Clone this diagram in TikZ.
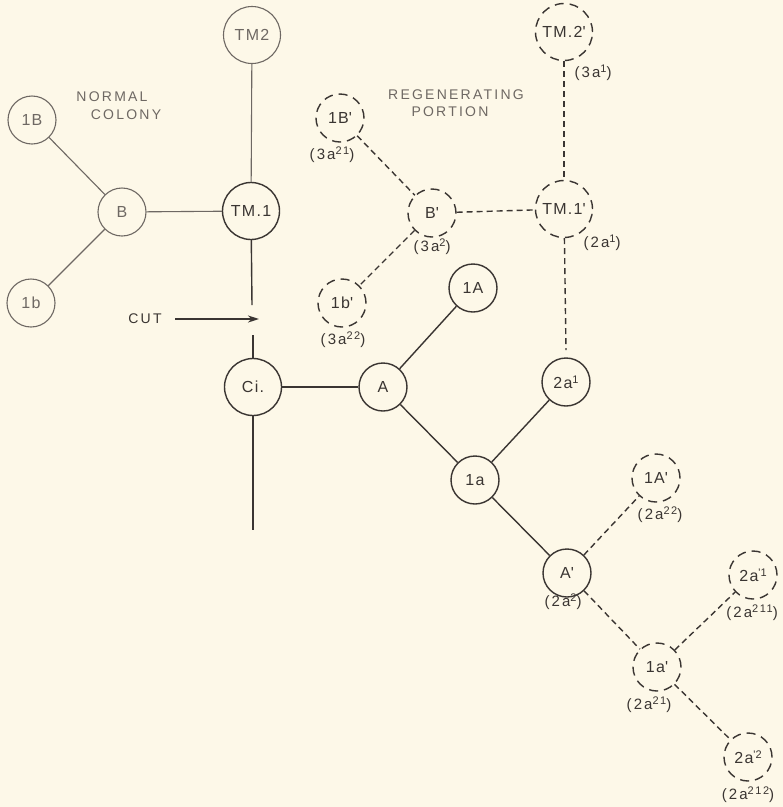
\documentclass[tikz,border=0pt]{standalone}
\usepackage{fontspec}
\setmainfont{Liberation Sans}[LetterSpace=8]
\usetikzlibrary{arrows.meta}
\definecolor{paper}{HTML}{FDF8E8}
\definecolor{ink}{HTML}{3A3532}
\definecolor{faint}{HTML}{6E6863}
% raised small figures for the generation indices
\newcommand\up[1]{\raisebox{0.6ex}{\fontsize{11}{11}\selectfont #1}}
\newcommand\pr{\textquotesingle}
\tikzset{
  cell/.style={circle, draw=ink, line width=1.4pt, inner sep=0pt,
    minimum size=48pt, text=ink, font=\fontsize{16}{16}\selectfont},
  big/.style={minimum size=57pt},
  old/.style={draw=faint, text=faint, line width=1.1pt},
  regen/.style={dash pattern=on 9pt off 6pt},
  tag/.style={text=ink, inner sep=0pt,
    font=\addfontfeature{LetterSpace=14}\fontsize{15}{15}\selectfont},
  heading/.style={text=faint, inner sep=0pt,
    font=\addfontfeature{LetterSpace=16}\fontsize{14}{14}\selectfont},
  link/.style={draw=ink, line width=1.4pt},
  oldlink/.style={draw=faint, line width=1.1pt},
  regenlink/.style={link, dash pattern=on 6pt off 4pt},
  cutarrow/.style={draw=ink, line width=2pt, -{Stealth[length=11pt,width=7pt]}}
}
\begin{document}
\begin{tikzpicture}[x=1pt, y=-1pt]
  \fill[paper] (0,0) rectangle (783,807);
  \useasboundingbox (0,0) rectangle (783,807);

  % normal colony
  \node[cell,big,old] (TMtwo) at (252,35) {TM2};
  \node[cell,big] (TMone) at (251,211) {TM.1};
  \node[cell,old] (B) at (122,212) {B};
  \node[cell,old] (oneB) at (32,120) {1B};
  \node[cell,old] (oneb) at (31,303) {1b};
  \node[cell,big] (Ci) at (253,387) {Ci.};
  \node[cell] (A) at (383,387) {A};
  \node[cell] (oneA) at (473,288) {1A};
  \node[cell] (onea) at (475,480) {1a};
  \node[cell] (twoa) at (566,382) {2a\up{1}};
  \node[cell] (Ap) at (567,573) {A\pr};

  % regenerating portion
  \node[cell,big,regen] (TMtwop) at (564,32) {TM.2\pr};
  \node[cell,big,regen] (TMonep) at (564,209) {TM.1\pr};
  \node[cell,regen] (Bp) at (432,213) {B\pr};
  \node[cell,regen] (oneBp) at (340,118) {1B\pr};
  \node[cell,regen] (onebp) at (342,303) {1b\pr};
  \node[cell,regen] (oneAp) at (656,478) {1A\pr};
  \node[cell,regen] (twoaop) at (753,575) {2a\up{\pr1}};
  \node[cell,regen] (oneap) at (657,667) {1a\pr};
  \node[cell,regen] (twoatp) at (748,757) {2a\up{\pr2}};

  % generation labels
  \node[tag] (lTMtwop) at (593,73) {(3a\up{1})};
  \node[tag] (lTMonep) at (602,243) {(2a\up{1})};
  \node[tag] (lBp) at (432,247) {(3a\up{2})};
  \node[tag] (loneBp) at (332,155) {(3a\up{21})};
  \node[tag] (lonebp) at (343,340) {(3a\up{22})};
  \node[tag] (loneAp) at (660,515) {(2a\up{22})};
  \node[tag] (lAp) at (563,602) {(2a\up{2})};
  \node[tag] (ltwoaop) at (752,613) {(2a\up{211})};
  \node[tag] (loneap) at (649,705) {(2a\up{21})};
  \node[tag] (ltwoatp) at (748,795) {(2a\up{212})};

  % headings
  \node[heading] (hnormal) at (112,97) {NORMAL};
  \node[heading] (hcolony) at (126,115) {COLONY};
  \node[heading] (hregen) at (456,95) {REGENERATING};
  \node[heading] (hportion) at (450,112) {PORTION};
  \node[heading, text=ink] (cut) at (145,319) {CUT};

  % free ends
  \coordinate (cutabove) at (252,305);
  \coordinate (cutbelow) at (253,335);
  \coordinate (stem) at (253,530);
  \coordinate (cutfrom) at (175,319);
  \coordinate (cutto) at (259,319);
  \coordinate (regrowend) at (566,350);

  % normal colony connectors
  \draw[oldlink] (TMtwo) -- (TMone);
  \draw[oldlink] (B) -- (TMone);
  \draw[oldlink] (B) -- (oneB);
  \draw[oldlink] (B) -- (oneb);
  \draw[link] (TMone) -- (cutabove);
  \draw[link] (cutbelow) -- (Ci);
  \draw[link] (Ci) -- (stem);
  \draw[link] (Ci) -- (A);
  \draw[link] (A) -- (oneA);
  \draw[link] (A) -- (onea);
  \draw[link] (onea) -- (twoa);
  \draw[link] (onea) -- (Ap);

  % regenerated connectors
  \draw[regenlink] (TMtwop) -- (TMonep);
  \draw[regenlink] (Bp) -- (TMonep);
  \draw[regenlink] (oneBp) -- (Bp);
  \draw[regenlink] (Bp) -- (onebp);
  \draw[regenlink] (TMonep) -- (regrowend);
  \draw[regenlink] (Ap) -- (oneAp);
  \draw[regenlink] (Ap) -- (oneap);
  \draw[regenlink] (oneap) -- (twoaop);
  \draw[regenlink] (oneap) -- (twoatp);

  % the cut
  \draw[cutarrow] (cutfrom) -- (cutto);
\end{tikzpicture}
\end{document}
